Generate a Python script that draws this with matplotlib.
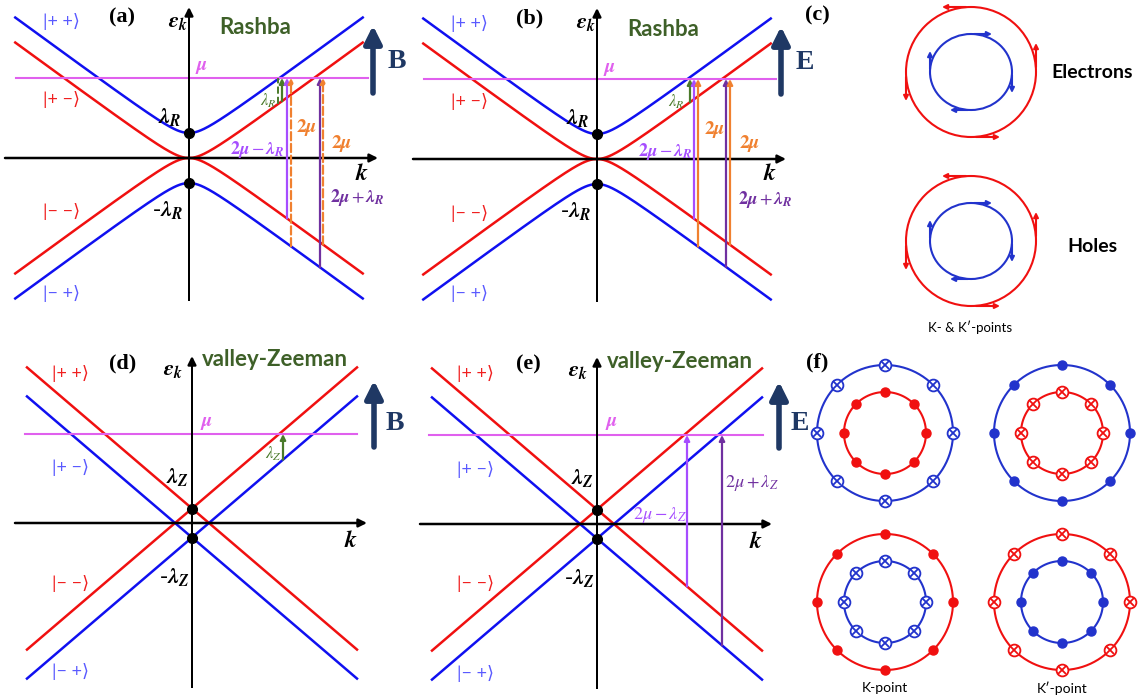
import numpy as np
import matplotlib.pyplot as plt
from matplotlib.patches import Circle, Ellipse, Rectangle

plt.rcParams['mathtext.fontset'] = 'stix'

W, H = 1147, 700
PX = 25.0  # pixels per energy unit in the band panels

# Rashba bands, panels (a) and (b)
lam_R = 1.0
v_R = 0.733
mu_R = 3.2
k_R = 6.95

# valley-Zeeman bands, panels (d) and (e)
lam_Z = 0.58
v_Z = 0.855
mu_Z = 3.56
k_Z = 6.6

kets = ['|+ +⟩', '|+ −⟩', '|− −⟩', '|− +⟩']
kets_R_colors = ['#5a5aff', '#f02020', '#f02020', '#5a5aff']
kets_Z_colors = ['#f02020', '#5a5aff', '#f02020', '#5a5aff']

# k positions of the transition arrows (band units)
a_arrows_k = [3.56, 3.72, 3.92, 4.08, 5.24, 5.36]
b_arrows_k = [3.72, 3.88, 4.04, 5.16, 5.32]
d_arrow_k = 3.64
e_arrows_k = [3.6, 5.0]

# panel (f): marker kind on outer / inner ring
f_outer_col = ['blue', 'blue', 'red', 'red']
f_inner_col = ['red', 'red', 'blue', 'blue']
f_outer_kind = ['cross', 'dot', 'dot', 'cross']
f_inner_kind = ['dot', 'cross', 'cross', 'dot']

BLUE = '#1010f0'
RED = '#f01010'
MAG = '#e060ee'
GREEN = '#4a7a2a'
DGREEN = '#3e6028'
LPUR = '#a64dff'
DPUR = '#7030a0'
ORANGE = '#f0802f'
NAVY = '#1f3864'
SANS = ['Lato', 'DejaVu Sans']
SERIF = ['Liberation Serif', 'DejaVu Serif']

fig = plt.figure(figsize=(W / 100, H / 100), dpi=100)


def panel(cx, cy):
    left, right, up, down = 185, 215, 175, 170
    ax = fig.add_axes([(cx - left) / W, 1 - (cy + down) / H, (left + right) / W, (up + down) / H])
    ax.set_xlim(-left / PX, right / PX)
    ax.set_ylim(-down / PX, up / PX)
    ax.axis('off')
    return ax


def arrow(ax, xy, xytext, **props):
    props.setdefault('shrinkA', 0)
    props.setdefault('shrinkB', 0)
    ax.annotate('', xy=xy, xytext=xytext, arrowprops=props, annotation_clip=False)


def axes_arrows(ax, x0, x1, y0, y1):
    arrow(ax, (x1, 0), (x0, 0), arrowstyle='-|>', color='k', lw=1.8, mutation_scale=12)
    # energy axis: thin filled bar plus arrow head
    ax.add_patch(Rectangle((-0.05, y0), 0.1, y1 - y0 - 0.2, fc='k', ec='none', zorder=5))
    arrow(ax, (0, y1), (0, y1 - 0.4), arrowstyle='-|>', color='k', lw=1.8, mutation_scale=12)


def up_arrow(ax, k, e0, e1, color, ls='-', lw=1.6):
    arrow(ax, (k, e1), (k, e0), arrowstyle='-|>', color=color, lw=lw, ls=ls, mutation_scale=8)


def field_arrow(ax, x, y0, y1, letter, lx, ly):
    arrow(ax, (x, y1), (x, y0), arrowstyle='-|>', color=NAVY, lw=4, mutation_scale=26)
    ax.text(lx, ly, letter, color=NAVY, fontsize=20, fontweight='bold', family=SERIF, ha='center', va='center')


def mtext(ax, x, y, s, color='k', size=13, **kw):
    ax.text(x, y, s, color=color, fontsize=size, ha='center', va='center', **kw)


def rashba_bands(k):
    root = np.sqrt((v_R * k) ** 2 + (lam_R / 2) ** 2)
    return lam_R / 2 + root, root - lam_R / 2, -(root - lam_R / 2), -(lam_R / 2 + root)


def rashba_panel(cx, cy, letter, field, arrows_k, dashed):
    ax = panel(cx, cy)
    k = np.linspace(-k_R, k_R, 400)
    bu, ru, rd, bd = rashba_bands(k)
    for e, c in zip([bu, ru, rd, bd], [BLUE, RED, RED, BLUE]):
        ax.plot(k, e, color=c, lw=1.8)
    ax.plot([-6.92, 7.16], [mu_R, mu_R], color=MAG, lw=1.5)
    axes_arrows(ax, -7.36, 7.56, -5.7, 6.04)
    ax.plot([0, 0], [lam_R, -lam_R], 'o', color='k', ms=7, zorder=6)

    if dashed:
        kg0, kg, kp, ko, kdp, ko2 = arrows_k
        ax.plot([kg0, kg0], [rashba_bands(kg0)[1], mu_R], color=GREEN, lw=1.4, ls='--')
        ols = '--'
    else:
        kg, kp, ko, kdp, ko2 = arrows_k
        ols = '-'
    up_arrow(ax, kg, rashba_bands(kg)[1], mu_R, GREEN)
    up_arrow(ax, kp, rashba_bands(kp)[2], mu_R, LPUR)
    up_arrow(ax, ko, rashba_bands(ko)[3], mu_R, ORANGE, ls=ols)
    up_arrow(ax, kdp, rashba_bands(kdp)[3], mu_R, DPUR)
    up_arrow(ax, ko2, rashba_bands(ko2)[2], mu_R, ORANGE, ls=ols)

    mtext(ax, 3.16, 2.28, r'$\lambda_R$', GREEN, 12)
    mtext(ax, 4.72, 1.2, r'$\mathbf{2}\mathbfit{\mu}$', ORANGE, 14)
    mtext(ax, 6.1, 0.6, r'$\mathbf{2}\mathbfit{\mu}$', ORANGE, 14)
    mtext(ax, 2.72, 0.32, r'$\mathbf{2}\mathbfit{\mu} - \mathbfit{\lambda}_{\mathbfit{R}}$', LPUR, 13)
    mtext(ax, 6.72, -1.6, r'$\mathbf{2}\mathbfit{\mu} + \mathbfit{\lambda}_{\mathbfit{R}}$', DPUR, 13)

    mtext(ax, -2.68, 5.62, letter, 'k', 16, fontweight='bold', family=SERIF)
    mtext(ax, -0.44, 5.44, r'$\mathbfit{\varepsilon}_{\mathbfit{k}}$', 'k', 16)
    mtext(ax, 2.64, 5.2, 'Rashba', DGREEN, 16, fontweight='bold', family=SANS)
    mtext(ax, 0.52, 3.64, r'$\mathbfit{\mu}$', MAG, 14)
    mtext(ax, -0.76, 1.64, r'$\mathbfit{\lambda}_{\mathbfit{R}}$', 'k', 16)
    mtext(ax, -0.86, -2.08, r'-$\mathbfit{\lambda}_{\mathbfit{R}}$', 'k', 16)
    mtext(ax, 6.92, -0.58, r'$\mathbfit{k}$', 'k', 17)
    for s, c, y in zip(kets, kets_R_colors, [5.44, 2.32, -2.16, -5.4]):
        mtext(ax, -5.1, y, s, c, 13, family=SANS)
    field_arrow(ax, 7.36, 2.6, 5.3, field, 8.3, 3.86)
    return ax


def zeeman_panel(cx, cy, letter, field):
    ax = panel(cx, cy)
    k = np.array([-k_Z, k_Z])
    ax.plot(k, lam_Z - v_Z * k, color=RED, lw=1.8)
    ax.plot(k, lam_Z + v_Z * k, color=RED, lw=1.8)
    ax.plot(k, -lam_Z - v_Z * k, color=BLUE, lw=1.8)
    ax.plot(k, -lam_Z + v_Z * k, color=BLUE, lw=1.8)
    axes_arrows(ax, -7.08, 7.0, -6.6, 6.68)
    ax.plot([0, 0], [lam_Z, -lam_Z], 'o', color='k', ms=7, zorder=6)
    mtext(ax, -2.76, 6.4, letter, 'k', 16, fontweight='bold', family=SERIF)
    mtext(ax, -0.76, 6.12, r'$\mathbfit{\varepsilon}_{\mathbfit{k}}$', 'k', 16)
    mtext(ax, 3.3, 6.52, 'valley-Zeeman', DGREEN, 16, fontweight='bold', family=SANS)
    mtext(ax, 0.58, 4.04, r'$\mathbfit{\mu}$', MAG, 14)
    mtext(ax, -0.6, 1.84, r'$\mathbfit{\lambda}_{\mathbfit{Z}}$', 'k', 16)
    mtext(ax, -0.7, -2.16, r'-$\mathbfit{\lambda}_{\mathbfit{Z}}$', 'k', 16)
    mtext(ax, 6.36, -0.68, r'$\mathbfit{k}$', 'k', 17)
    for s, c, y in zip(kets, kets_Z_colors, [6.0, 2.2, -2.4, -5.96]):
        mtext(ax, -4.85, y, s, c, 13, family=SANS)
    field_arrow(ax, 7.28, 3.04, 5.7, field, 8.1, 4.0)
    return ax


rashba_panel(189, 158, '(a)', 'B', a_arrows_k, True)
rashba_panel(597, 159, '(b)', 'E', b_arrows_k, False)

axd = zeeman_panel(192, 523, '(d)', 'B')
axd.plot([-6.68, 6.6], [mu_Z, mu_Z], color=MAG, lw=1.5)
up_arrow(axd, d_arrow_k, -lam_Z + v_Z * d_arrow_k, mu_Z, GREEN)
mtext(axd, 3.24, 2.76, r'$\lambda_Z$', GREEN, 12)

axe = zeeman_panel(597, 524, '(e)', 'E')
axe.plot([-6.72, 6.64], [mu_Z, mu_Z], color=MAG, lw=1.5)
up_arrow(axe, e_arrows_k[0], lam_Z - v_Z * e_arrows_k[0], mu_Z, LPUR)
up_arrow(axe, e_arrows_k[1], -lam_Z - v_Z * e_arrows_k[1], mu_Z, DPUR)
mtext(axe, 2.52, 0.36, r'$2\mu - \lambda_Z$', LPUR, 13)
mtext(axe, 6.2, 1.64, r'$2\mu + \lambda_Z$', DPUR, 13)

# panel (c): spin textures, pixel units
axc = fig.add_axes([800 / W, 1 - 340 / H, 347 / W, 340 / H])
axc.set_xlim(0, 347)
axc.set_ylim(340, 0)
axc.axis('off')
CBLUE = '#2233cc'
for cy in [72, 241]:
    cx = 171
    axc.add_patch(Circle((cx, cy), 65, fill=False, ec=RED, lw=1.5))
    axc.add_patch(Ellipse((cx, cy), 82, 76, fill=False, ec=CBLUE, lw=1.5))
    for rx, ry, col, sense, a0, L in [(65, 65, RED, -1, 5, 29), (41, 38, CBLUE, 1, 3, 21)]:
        for th in np.deg2rad([-90, 0, 90, 180]):
            p = np.array([cx + rx * np.cos(th), cy + ry * np.sin(th)])
            t = np.round(sense * np.array([-np.sin(th), np.cos(th)]))
            arrow(axc, p + L * t, p + a0 * t, arrowstyle='-|>', color=col, lw=1.5, mutation_scale=7)
axc.text(17, 15, '(c)', fontsize=16, fontweight='bold', family=SERIF, ha='center', va='center')
axc.text(292, 72, 'Electrons', fontsize=14, fontweight='bold', family=SANS, ha='center', va='center')
axc.text(292, 246, 'Holes', fontsize=14, fontweight='bold', family=SANS, ha='center', va='center')
axc.text(170, 327, 'K- & K′-points', fontsize=9.5, family=SANS, ha='center', va='center')

# panel (f): out-of-plane spin components
axf = fig.add_axes([800 / W, 0, 347 / W, 370 / H])
axf.set_xlim(0, 347)
axf.set_ylim(370, 0)
axf.axis('off')
FBLUE = '#2233cc'
cols = {'blue': FBLUE, 'red': RED}
centers = [(85, 103), (262, 103), (85, 272), (262, 272)]
ang = np.deg2rad(np.arange(0, 360, 45))


def ring(cx, cy, r, col, kind):
    th = np.linspace(0, 2 * np.pi, 200)
    axf.plot(cx + r * np.cos(th), cy + r * np.sin(th), color=col, lw=1.5)
    x, y = cx + r * np.cos(ang), cy + r * np.sin(ang)
    if kind == 'dot':
        axf.plot(x, y, 'o', color=col, ms=6.5, mec=col)
    else:
        axf.plot(x, y, 'o', mfc='white', mec=col, ms=8.5, mew=1.3)
        axf.plot(x, y, 'x', color=col, ms=5.5, mew=1.3)


for (cx, cy), oc, ic, ok, ik in zip(centers, f_outer_col, f_inner_col, f_outer_kind, f_inner_kind):
    ring(cx, cy, 68, cols[oc], ok)
    ring(cx, cy, 41, cols[ic], ik)
axf.text(17, 32, '(f)', fontsize=16, fontweight='bold', family=SERIF, ha='center', va='center')
axf.text(85, 358, 'K-point', fontsize=10, family=SANS, ha='center', va='center')
axf.text(262, 358, 'K′-point', fontsize=10, family=SANS, ha='center', va='center')

fig.savefig('out.png', dpi=100, facecolor='white')
